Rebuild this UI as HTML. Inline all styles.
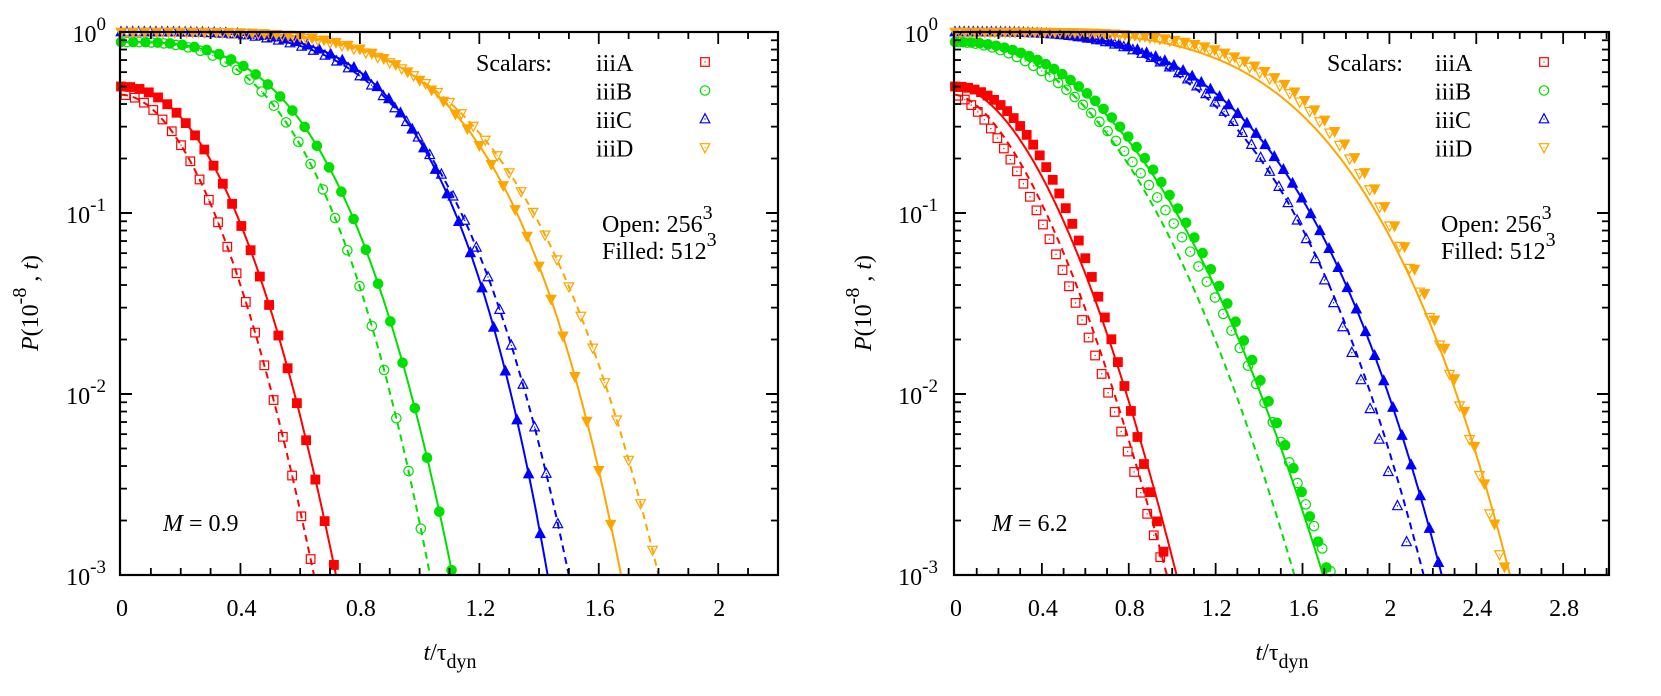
<!DOCTYPE html>
<html><head><meta charset="utf-8">
<style>
html,body{margin:0;padding:0;background:#fff;}
svg{display:block;}
text{font-family:"Liberation Serif",serif;font-size:24px;fill:#000;}
</style></head>
<body>
<svg id="s" width="1661" height="696" xmlns="http://www.w3.org/2000/svg">
<defs>
<clipPath id="cl"><rect x="120" y="20" width="658" height="555"/></clipPath>
<clipPath id="cr"><rect x="954" y="20" width="655" height="555"/></clipPath>
</defs>
</svg>
<script>
const NS="http://www.w3.org/2000/svg";
const svg=document.getElementById('s');
function el(tag,attrs,parent,txt){const e=document.createElementNS(NS,tag);for(const k in attrs)e.setAttribute(k,attrs[k]);if(txt!==undefined)e.textContent=txt;(parent||svg).appendChild(e);return e;}
const TOP=32,BOT=575,DEC=(BOT-TOP)/3;
function Y(p){return TOP+(-Math.log10(p))*DEC;}
const C={r:'#ff0000',g:'#00e000',b:'#0000ff',o:'#ffa500'};
function model(P0,tau,n){return t=>P0*Math.exp(-Math.pow(t/tau,n));}
function marker(g,type,x,y,col,filled){
  const s=4.3;
  if(type==='sq'){el('rect',{x:x-s,y:y-s,width:2*s,height:2*s,fill:filled?col:'none',stroke:col,'stroke-width':1.2},g);}
  else if(type==='ci'){el('circle',{cx:x,cy:y,r:s+0.4,fill:filled?col:'none',stroke:col,'stroke-width':1.2},g);}
  else if(type==='up'){el('polygon',{points:`${x},${y-s-1} ${x-s-0.5},${y+s-0.5} ${x+s+0.5},${y+s-0.5}`,fill:filled?col:'none',stroke:col,'stroke-width':1.2},g);}
  else {el('polygon',{points:`${x},${y+s+1} ${x-s-0.5},${y-s+0.5} ${x+s+0.5},${y-s+0.5}`,fill:filled?col:'none',stroke:col,'stroke-width':1.2},g);}
  if(!filled) el('rect',{x:x-0.6,y:y-0.6,width:1.2,height:1.2,fill:col},g);
}
function panel(cfg){
  const {L,R,x0,ux,xmax,clip,curves,labelM,legX,scalX,tickLabelR,ylabX,xlabX}=cfg;
  const X=t=>x0+ux*t;
  const g=el('g',{'clip-path':`url(#${clip})`});
  for(const c of curves){
    if(c.line){
      const f=c.line;let d='';
      for(let t=0;t<=xmax;t+=0.004){const p=f(t);if(p<5e-4)break;d+=(d?'L':'M')+X(t).toFixed(1)+','+Y(p).toFixed(1);}
      el('path',{d,fill:'none',stroke:c.col,'stroke-width':2,'stroke-dasharray':c.dash?'7,5':'none'},g);
    }
  }
  const gm=el('g',{});
  for(const c of curves){
    if(c.mk){
      const f=c.mk;
      for(let t=c.t0||0;t<=xmax;t+=c.dt){const p=f(t);if(p<0.98e-3)break;marker(gm,c.type,X(t),Y(p),c.col,c.filled);}
    }
  }
  el('rect',{x:L,y:TOP,width:R-L,height:BOT-TOP,fill:'none',stroke:'#000','stroke-width':2.2});
  for(let d=0;d<=3;d++){
    const y=TOP+d*DEC;
    el('line',{x1:L,y1:y,x2:L+12,y2:y,stroke:'#000','stroke-width':2},svg);
    el('line',{x1:R,y1:y,x2:R-12,y2:y,stroke:'#000','stroke-width':2},svg);
    const tx=el('text',{x:tickLabelR,y:y+10,'text-anchor':'end','font-size':29});
    tx.textContent='10';
    el('tspan',{dy:-12,'font-size':19},tx,d===0?'0':'-'+d);
    if(d<3){for(let m=2;m<=9;m++){const yy=y+DEC*(1-Math.log10(m));
      el('line',{x1:L,y1:yy,x2:L+7,y2:yy,stroke:'#000','stroke-width':1.8});
      el('line',{x1:R,y1:yy,x2:R-7,y2:yy,stroke:'#000','stroke-width':1.8});}}
  }
  for(let k=0;k<=Math.round(xmax*10);k++){
    const t=k/10,x=X(t);const major=(k%4===0);const len=major?12:7;
    if(x>L+2){
    el('line',{x1:x,y1:BOT,x2:x,y2:BOT-len,stroke:'#000','stroke-width':1.8});
    el('line',{x1:x,y1:TOP,x2:x,y2:TOP+len,stroke:'#000','stroke-width':1.8});}
    if(major){el('text',{x:x+1,y:616,'text-anchor':'middle','font-size':26},svg,(Math.round(t*10)/10).toString());}
  }
  const ml=el('text',{x:labelM.x,y:531,'font-size':26});
  el('tspan',{'font-style':'italic'},ml,'M');
  el('tspan',{},ml,' = '+labelM.v);
  el('text',{x:scalX,y:71,'font-size':30},svg,'Scalars:');
  const names=['iiiA','iiiB','iiiC','iiiD'],types=['sq','ci','up','dn'],cols=[C.r,C.g,C.b,C.o];
  for(let i=0;i<4;i++){const y=71+i*28.5;el('text',{x:legX,y:y,'font-size':30},svg,names[i]);marker(svg,types[i],legX+109,y-9,cols[i],false);}
  const o=el('text',{x:legX+6,y:232,'font-size':30});o.textContent='Open:  256';el('tspan',{dy:-13,'font-size':20},o,'3');
  const f=el('text',{x:legX+6,y:259,'font-size':30});f.textContent='Filled: 512';el('tspan',{dy:-13,'font-size':20},f,'3');
  const yl=el('text',{x:0,y:0,transform:`translate(${ylabX},303) rotate(-90)`,'text-anchor':'middle','font-size':29});
  el('tspan',{'font-style':'italic'},yl,'P');el('tspan',{},yl,'(10');el('tspan',{dy:-12,'font-size':20},yl,'-8');
  el('tspan',{dy:12},yl,' ,  ');el('tspan',{'font-style':'italic'},yl,'t');el('tspan',{},yl,')');
  const xl=el('text',{x:xlabX,y:660,'text-anchor':'middle','font-size':27});
  el('tspan',{'font-style':'italic'},xl,'t');el('tspan',{},xl,'/τ');el('tspan',{dy:8,'font-size':20},xl,'dyn');
}
{
const rs=model(0.5,0.309,2.16),rd=model(0.45,0.253,1.93);
const gs=model(0.88,0.60,3.11),gd=model(0.88,0.549,3.02);
const bs=model(1,0.93,4.5),bd=model(1,0.925,4.0);
const os=model(1,1.11,4.7),od=model(1,1.13,4.15);
panel({L:120,R:778,x0:121,ux:298.6,xmax:2.2,clip:'cl',labelM:{x:163,v:'0.9'},legX:596,scalX:476,tickLabelR:106,ylabX:38,xlabX:450,
curves:[
 {col:C.r,line:rs,mk:rs,type:'sq',filled:true,dt:0.031},
 {col:C.r,line:rd,mk:rd,type:'sq',filled:false,dt:0.031,dash:1,t0:0.015},
 {col:C.g,line:gs,mk:gs,type:'ci',filled:true,dt:0.041},
 {col:C.g,line:gd,mk:gd,type:'ci',filled:false,dt:0.041,dash:1,t0:0.02},
 {col:C.b,line:bs,mk:bs,type:'up',filled:true,dt:0.039},
 {col:C.b,line:bd,mk:bd,type:'up',filled:false,dt:0.039,dash:1,t0:0.02},
 {col:C.o,line:os,mk:os,type:'dn',filled:true,dt:0.04},
 {col:C.o,line:od,mk:od,type:'dn',filled:false,dt:0.04,dash:1,t0:0.02},
]});
}
{
const rs=model(0.5,0.371,1.806),rsm=model(0.5,0.415,2.12);
const rd=model(0.45,0.328,1.66),rdm=model(0.45,0.29,1.5);
const gs=model(0.88,0.721,2.24),gsm=model(0.88,0.735,2.25);
const gd=model(0.88,0.652,2.19),gdm=model(0.88,0.66,1.98);
const bs=model(1,1.288,3.49),bd=model(1,1.22,3.39),bdm=model(1,1.235,3.59);
const os=model(1,1.576,4.0),osm=model(1,1.66,4.55),odm=model(1,1.63,4.4);
panel({L:954,R:1609,x0:955,ux:217.2,xmax:3.0,clip:'cr',labelM:{x:992,v:'6.2'},legX:1435,scalX:1327,tickLabelR:938,ylabX:871,xlabX:1282,
curves:[
 {col:C.r,line:rs,mk:rsm,type:'sq',filled:true,dt:0.03},
 {col:C.r,line:rd,mk:rdm,type:'sq',filled:false,dt:0.03,dash:1,t0:0.015},
 {col:C.g,line:gs,mk:gsm,type:'ci',filled:true,dt:0.038},
 {col:C.g,line:gd,mk:gdm,type:'ci',filled:false,dt:0.038,dash:1,t0:0.019},
 {col:C.b,line:bs,mk:bs,type:'up',filled:true,dt:0.042},
 {col:C.b,line:bd,mk:bdm,type:'up',filled:false,dt:0.042,dash:1,t0:0.021},
 {col:C.o,line:os,mk:osm,type:'dn',filled:true,dt:0.046},
 {col:C.o,mk:odm,type:'dn',filled:false,dt:0.046,t0:0.023},
]});
}
</script>
</body></html>
